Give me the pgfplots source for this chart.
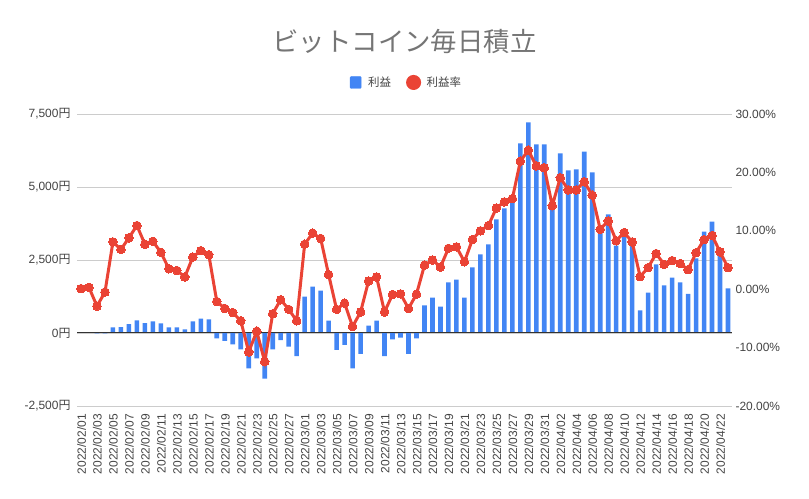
\documentclass[border=0pt]{standalone}
\usepackage{pgfplots}
\pgfplotsset{compat=1.18}
\usepackage{pgfplotstable}
\usepackage{fontspec}
\setmainfont{Liberation Sans}
\newfontfamily\cjk{Noto Sans CJK JP}
\definecolor{cblue}{HTML}{4285F4}
\definecolor{cred}{HTML}{EA4335}
\definecolor{cgrid}{HTML}{CCCCCC}
\definecolor{ctext}{HTML}{444444}
\definecolor{ctitle}{HTML}{757575}

\pgfplotstableread{
i profit rate
0 0 0.1
1 3 0.3
2 -15 -2.9
3 -10 -0.5
4 194 8.1
5 200 6.8
6 308 8.8
7 434 10.9
8 342 7.7
9 400 8.2
10 331 6.3
11 194 3.5
12 194 3.2
13 126 2.1
14 400 5.5
15 491 6.6
16 468 5.9
17 -183 -2.1
18 -274 -3.3
19 -388 -4.0
20 -559 -5.4
21 -1210 -10.75
22 -867 -7.2
23 -1560 -12.4
24 -559 -4.2
25 -240 -1.8
26 -468 -3.45
27 -788 -5.4
28 1244 7.7
29 1587 9.6
30 1450 8.7
31 422 2.5
32 -582 -3.45
33 -411 -2.4
34 -1210 -6.4
35 -719 -3.9
36 251 1.4
37 422 2.1
38 -788 -3.9
39 -217 -0.9
40 -160 -0.8
41 -719 -3.3
42 -183 -0.85
43 947 4.1
44 1210 5.0
45 902 3.8
46 1735 7.0
47 1826 7.25
48 1210 4.7
49 2249 8.5
50 2694 10.0
51 3037 10.9
52 3893 13.9
53 4270 14.95
54 4555 15.5
55 6496 21.9
56 7210 23.8
57 6462 21.1
58 6462 20.8
59 4590 14.3
60 6154 19.1
61 5565 17.0
62 5606 17.0
63 6210 18.4
64 5503 16.1
65 3550 10.25
66 4064 11.7
67 2991 8.3
68 3400 9.7
69 3000 8.1
70 776 2.15
71 1381 3.7
72 2352 6.1
73 1632 4.25
74 1895 4.9
75 1735 4.4
76 1336 3.35
77 2557 6.25
78 3470 8.5
79 3813 9.2
80 2750 6.4
81 1530 3.7
}\data

\begin{document}
\begin{tikzpicture}[x=1bp,y=1bp]
\path[use as bounding box] (0,0) rectangle (809,499);
\node[text=ctitle, font=\cjk\fontsize{26.5}{30}\selectfont] at (404.5,457.5) {ビットコイン毎日積立};
\begin{axis}[
  at={(77bp,93bp)}, anchor=south west,
  scale only axis, width=655bp, height=292bp,
  xmin=-0.5, xmax=81.5, ymin=-2500, ymax=7500,
  ytick={-2500,0,2500,5000,7500},
  axis line style={draw=none}, tick style={draw=none},
  ymajorgrids, grid style={cgrid, line width=0.8bp},
  xtick={0,2,...,80},
  xticklabels={2022/02/01,2022/02/03,2022/02/05,2022/02/07,2022/02/09,2022/02/11,2022/02/13,2022/02/15,2022/02/17,2022/02/19,2022/02/21,2022/02/23,2022/02/25,2022/02/27,2022/03/01,2022/03/03,2022/03/05,2022/03/07,2022/03/09,2022/03/11,2022/03/13,2022/03/15,2022/03/17,2022/03/19,2022/03/21,2022/03/23,2022/03/25,2022/03/27,2022/03/29,2022/03/31,2022/04/02,2022/04/04,2022/04/06,2022/04/08,2022/04/10,2022/04/12,2022/04/14,2022/04/16,2022/04/18,2022/04/20,2022/04/22},
  x tick label style={rotate=90, anchor=east, font=\fontsize{12}{14}\selectfont, text=ctext, inner sep=2bp, xshift=-6bp, yshift=-0.5bp},
  yticklabel={\pgfmathprintnumber{\tick}{\cjk 円}},
  y tick label style={font=\fontsize{12}{14}\selectfont, text=ctext, xshift=-3bp},
  /pgf/number format/.cd, 1000 sep={,}, assume math mode=true,
]
\addplot[ybar, bar width=4.6bp, fill=cblue, draw=none] table[x=i,y=profit]{\data};
\draw[color=black!80, line width=1bp] (axis cs:-0.5,0) -- (axis cs:81.5,0);
\end{axis}
\begin{axis}[
  at={(77bp,93bp)}, anchor=south west,
  scale only axis, width=655bp, height=292bp,
  xmin=-0.5, xmax=81.5, ymin=-20, ymax=30,
  ytick={-20,-10,0,10,20,30},
  axis y line*=right, hide x axis,
  axis line style={draw=none}, tick style={draw=none},
  yticklabel={\pgfmathprintnumber[fixed, fixed zerofill, precision=2]{\tick}\%},
  y tick label style={font=\fontsize{12}{14}\selectfont, text=ctext},
  /pgf/number format/assume math mode=true,
  legend style={at={(0.503,1.108)}, anchor=center, draw=none, fill=none, legend columns=2,
    font=\cjk\fontsize{11.5}{13}\selectfont, text=ctext,
    /tikz/every even column/.append style={column sep=13bp}},
]
\addlegendimage{legend image code/.code={\fill[cblue, rounded corners=1bp] (0bp,-6bp) rectangle (11bp,6bp); \path[draw=none, fill=none] (0bp,0bp) -- (16bp,0bp);}}
\addlegendentry{利益}
\addplot[cred, line width=3bp, mark=*, mark size=4.3bp, mark options={fill=cred, draw=cred, line width=0pt},
  legend image code/.code={\fill[cred] (6bp,0bp) ellipse (6bp and 6bp); \path[draw=none, fill=none] (0bp,0bp) -- (17bp,0bp);}] table[x=i,y=rate]{\data};
\addlegendentry{利益率}
\end{axis}
\end{tikzpicture}
\end{document}
